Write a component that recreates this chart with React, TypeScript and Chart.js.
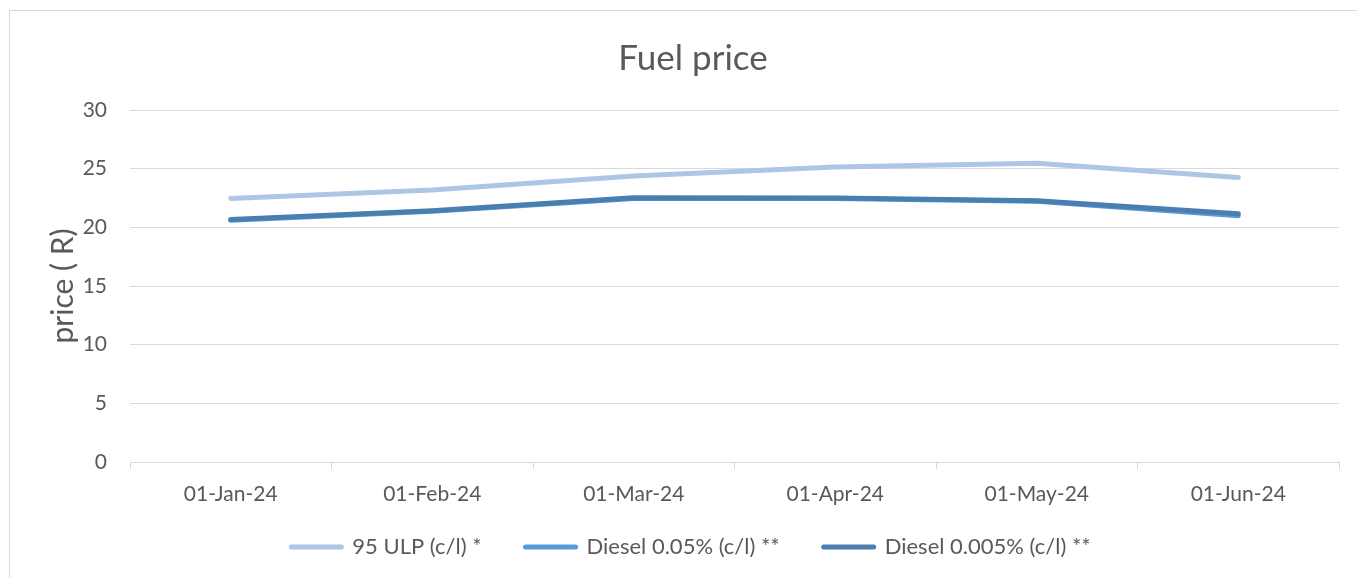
import React, { useEffect, useRef } from "react";
import { Chart, registerables } from "chart.js";

Chart.register(...registerables);

const categories = ["01-Jan-24", "01-Feb-24", "01-Mar-24", "01-Apr-24", "01-May-24", "01-Jun-24"];
const ulp95 = [22.46, 23.19, 24.38, 25.14, 25.46, 24.24];
const diesel005 = [20.6, 21.38, 22.45, 22.45, 22.22, 20.98];
const diesel0005 = [20.66, 21.42, 22.52, 22.5, 22.27, 21.16];
const seriesNames = ["95 ULP (c/l) *", "Diesel 0.05% (c/l) **", "Diesel 0.005% (c/l) **"];
const seriesColors = ["#ADC6E5", "#5B9BD5", "#4A7EB1"];
const yTicks = [0, 5, 10, 15, 20, 25, 30];
const chartTitle = "Fuel price";
const yTitle = "price ( R)";

const FONT = "Lato, 'Open Sans', sans-serif";
const TEXT = "#595959";
const GRID = "#D9D9D9";

const decorPlugin = {
  id: "decor",
  beforeDraw(chart: any) {
    const ctx = chart.ctx;
    ctx.save();
    ctx.fillStyle = "#ffffff";
    ctx.fillRect(0, 0, chart.width, chart.height);
    ctx.strokeStyle = GRID;
    ctx.lineWidth = 1;
    ctx.strokeRect(9.5, 10.5, chart.width + 20, chart.height + 20);
    ctx.restore();
  },
  afterDraw(chart: any) {
    const ctx = chart.ctx;
    ctx.save();
    // title
    ctx.fillStyle = TEXT;
    ctx.font = `normal 35px ${FONT}`;
    ctx.textAlign = "center";
    ctx.textBaseline = "middle";
    ctx.fillText(chartTitle, 693, 59);
    // legend
    ctx.font = `normal 22px ${FONT}`;
    ctx.textAlign = "left";
    const lineLen = 50;
    const textGap = 11;
    const itemGap = 44;
    const widths = seriesNames.map((n) => ctx.measureText(n).width);
    const total =
      widths.reduce((a, w) => a + lineLen + textGap + w, 0) + itemGap * (seriesNames.length - 1);
    let x = 691 - total / 2;
    const y = 547;
    chart.data.datasets.forEach((ds: any, i: number) => {
      ctx.strokeStyle = ds.borderColor;
      ctx.lineWidth = 5;
      ctx.lineCap = "round";
      ctx.beginPath();
      ctx.moveTo(x, y);
      ctx.lineTo(x + lineLen, y);
      ctx.stroke();
      ctx.fillStyle = TEXT;
      ctx.fillText(ds.label, x + lineLen + textGap, y);
      x += lineLen + textGap + widths[i] + itemGap;
    });
    ctx.restore();
  },
};

export default function App() {
  const ref = useRef<HTMLCanvasElement>(null);
  useEffect(() => {
    if (!ref.current) return;
    const mk = (i: number, data: number[], order: number) => ({
      label: seriesNames[i],
      data,
      borderColor: seriesColors[i],
      backgroundColor: seriesColors[i],
      borderWidth: 5,
      borderCapStyle: "round",
      borderJoinStyle: "round",
      pointRadius: 0,
      pointHoverRadius: 0,
      tension: 0,
      fill: false,
      order,
    });
    const chart = new Chart(ref.current, {
      type: "line",
      data: {
        labels: categories,
        datasets: [mk(0, ulp95, 2), mk(1, diesel005, 1), mk(2, diesel0005, 0)] as any,
      },
      options: {
        animation: false,
        responsive: true,
        maintainAspectRatio: false,
        layout: { padding: { left: 0, right: 18, top: 110, bottom: 70 } },
        plugins: {
          title: { display: false },
          legend: { display: false },
          tooltip: { enabled: false },
        },
        scales: {
          x: {
            offset: true,
            grid: {
              offset: true,
              drawOnChartArea: false,
              drawTicks: true,
              tickLength: 7,
              color: GRID,
            },
            border: { color: GRID },
            ticks: { color: TEXT, font: { family: FONT, size: 21 }, padding: 13, maxRotation: 0 },
            afterFit: (s: any) => {
              s.height = 46;
            },
          },
          y: {
            min: 0,
            max: 30,
            afterBuildTicks: (s: any) => {
              s.ticks = yTicks.map((v) => ({ value: v }));
            },
            grid: { color: GRID, drawTicks: false },
            border: { display: false },
            ticks: { color: TEXT, font: { family: FONT, size: 21 }, padding: 23 },
            title: {
              display: true,
              text: yTitle,
              color: TEXT,
              font: { family: FONT, size: 30 },
              padding: { top: 45, bottom: 0 },
            },
            afterFit: (s: any) => {
              s.width = 130;
            },
          },
        },
      },
      plugins: [decorPlugin],
    });
    return () => chart.destroy();
  }, []);
  return (
    <div style={{ position: "fixed", left: 0, top: 0, width: 1357, height: 578, background: "#fff" }}>
      <canvas ref={ref} />
    </div>
  );
}
